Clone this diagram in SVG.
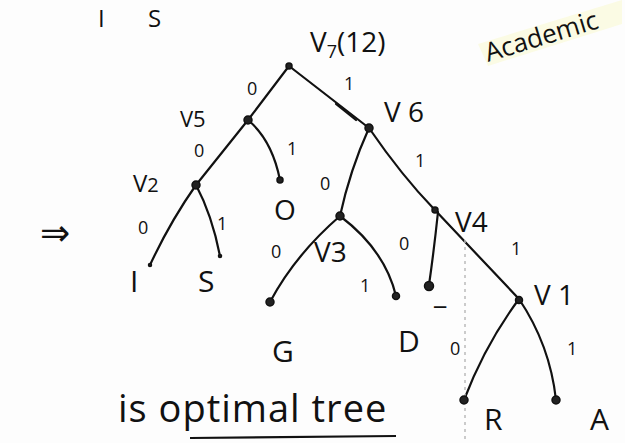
<svg xmlns="http://www.w3.org/2000/svg" width="625" height="443" viewBox="0 0 625 443">
<style>
.e{fill:none;stroke:#111;stroke-width:2.2;stroke-linecap:round}
.d{fill:#222;stroke:#111;stroke-width:1.5}
.t{font-family:"Open Sans","DejaVu Sans",sans-serif;fill:#111}
.n{font-size:28px}
.b{font-size:18px}
.l{font-size:30px}
</style>
<rect width="625" height="443" fill="#fdfdfd"/>
<g id="header">
<text class="t" font-size="24" x="98" y="27">I</text>
<text class="t" font-size="24" x="148" y="27">S</text>
<polygon points="478,44 622,0 622,24 488,66" fill="#fbfbe4"/>
<text class="t" font-size="26" x="488" y="62" transform="rotate(-17 488 62)">Academic</text>
</g>
<g id="connectors">
<path class="e" d="M289,66 L248,120"/>
<path class="e" d="M289,66 L369,128"/>
<path class="e" d="M336,104 L356,120" stroke-width="4.5"/>
<path class="e" d="M248,120 L196,185"/>
<path class="e" d="M248,120 Q272,140 280,180"/>
<path class="e" d="M196,185 Q170,222 150,265"/>
<path class="e" d="M196,185 Q212,215 220,256"/>
<path class="e" d="M369,128 Q350,170 340,216"/>
<path class="e" d="M369,128 Q402,176 434,209"/>
<path class="e" d="M340,216 Q295,255 270,302"/>
<path class="e" d="M340,216 Q385,250 396,296"/>
<path class="e" d="M438,212 Q434,250 429,285"/>
<path class="e" d="M434,209 L519,299"/>
<path class="e" d="M519,299 Q485,345 464,400"/>
<path class="e" d="M519,299 Q550,345 556,400"/>
<line x1="465" y1="240" x2="465" y2="440" stroke="#bbb" stroke-width="1.5" stroke-dasharray="3,4"/>
</g>
<g id="edge-labels">
<text class="t b" x="247" y="95">0</text>
<text class="t b" x="344" y="90">1</text>
<text class="t b" x="194" y="157">0</text>
<text class="t b" x="287" y="155">1</text>
<text class="t b" x="138" y="234">0</text>
<text class="t b" x="217" y="230">1</text>
<text class="t b" x="320" y="190">0</text>
<text class="t b" x="415" y="167">1</text>
<text class="t b" x="271" y="258">0</text>
<text class="t b" x="360" y="292">1</text>
<text class="t b" x="399" y="250">0</text>
<text class="t b" x="511" y="255">1</text>
<text class="t b" x="450" y="355">0</text>
<text class="t b" x="567" y="355">1</text>
</g>
<g id="V7"><circle class="d" cx="289" cy="66" r="3"/><text class="t n" x="310" y="52">V<tspan font-size="18" dy="6">7</tspan><tspan dy="-6">(12)</tspan></text></g>
<g id="V5"><circle class="d" cx="248" cy="120" r="4"/><text class="t" font-size="22" x="180" y="127">V5</text></g>
<g id="V6"><circle class="d" cx="369" cy="128" r="4"/><text class="t n" x="384" y="122">V 6</text></g>
<g id="V2"><circle class="d" cx="196" cy="185" r="4"/><text class="t" font-size="24" x="133" y="192">V<tspan font-size="20">2</tspan></text></g>
<g id="O"><circle class="d" cx="280" cy="180" r="3"/><text class="t n" x="274" y="220">O</text></g>
<g id="V3"><circle class="d" cx="340" cy="216" r="4"/><text class="t n" x="314" y="262">V3</text></g>
<g id="V4"><circle class="d" cx="435" cy="210" r="3"/><text class="t n" x="455" y="232">V4</text></g>
<g id="I"><circle class="d" cx="150" cy="265" r="1.5"/><text class="t l" x="130" y="292">I</text></g>
<g id="S"><circle class="d" cx="220" cy="256" r="1.5"/><text class="t l" x="198" y="292">S</text></g>
<g id="G"><circle class="d" cx="270" cy="302" r="4"/><text class="t l" x="272" y="362">G</text></g>
<g id="D"><circle class="d" cx="396" cy="296" r="3.5"/><text class="t l" x="398" y="352">D</text></g>
<g id="space"><circle class="d" cx="429" cy="286" r="4.5"/><text class="t n" x="434" y="304">_</text></g>
<g id="V1"><circle class="d" cx="519" cy="300" r="3.5"/><text class="t n" x="534" y="305">V 1</text></g>
<g id="R"><circle class="d" cx="464" cy="400" r="4"/><text class="t l" x="484" y="430">R</text></g>
<g id="A"><circle class="d" cx="556" cy="400" r="4"/><text class="t l" x="590" y="430">A</text></g>
<g id="footer">
<text class="t" font-size="36" x="40" y="245">⇒</text>
<text class="t" font-size="38" letter-spacing="1" x="118" y="422">is optimal tree</text>
<line x1="190" y1="438" x2="396" y2="436" stroke="#111" stroke-width="2.2"/>
</g>
</svg>
